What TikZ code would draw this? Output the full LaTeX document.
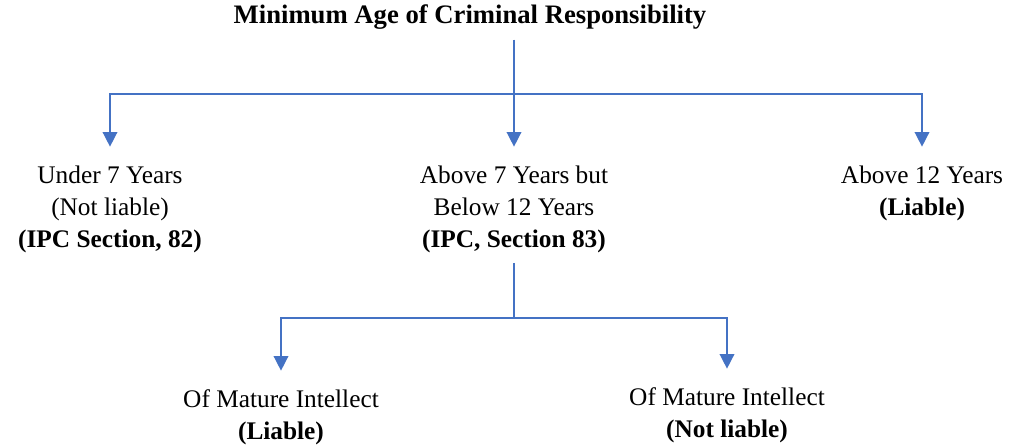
\documentclass[tikz,border=0pt]{standalone}
\usepackage{fontspec}
\setmainfont{Liberation Serif}
\usetikzlibrary{arrows.meta,positioning,calc}
\definecolor{linkblue}{HTML}{4472C4}

\begin{document}
\begin{tikzpicture}[
  x=0.75pt, y=0.75pt,
  >={Triangle[length=11pt,width=11pt]},
  link/.style={draw=linkblue, line width=1.1pt},
  arrow/.style={link, ->, linkblue, shorten >=7pt},
  stem/.style={link, shorten <=0.5pt},
  caption/.style={align=center, inner xsep=2pt, inner ysep=7pt,
                  font=\fontsize{19pt}{24pt}\selectfont},
  heading/.style={caption, font=\fontsize{20pt}{24pt}\selectfont\bfseries},
]
\useasboundingbox (0,0) rectangle (1010,-446);

% --- Title and first fork ---
\node[heading] (title) at (470,-17) {Minimum Age of Criminal Responsibility};
\coordinate (fork) at (514,-94);

% --- Three age groups ---
\node[caption, anchor=north] (under) at (110,-156)
  {Under 7 Years\\(Not liable)\\\textbf{(IPC Section, 82)}};
\node[caption, anchor=north] (mid)   at (514,-156)
  {Above 7 Years but\\Below 12 Years\\\textbf{(IPC, Section 83)}};
\node[caption, anchor=north] (over)  at (922,-156)
  {Above 12 Years\\\textbf{(Liable)}};

% --- Second fork under the middle group ---
\coordinate (fork2) at (514,-318);
\node[caption, anchor=north] (mature) at (281,-380)
  {Of Mature Intellect\\\textbf{(Liable)}};
\node[caption, anchor=north] (immature) at (727,-378)
  {Of Mature Intellect\\\textbf{(Not liable)}};

% connectors
\draw[stem] (title.south -| fork) -- (fork);
\draw[arrow] (fork) -| (under.north);
\draw[arrow] (fork) -- (mid.north);
\draw[arrow] (fork) -| (over.north);

\draw[stem] (mid.south) -- (fork2);
\draw[arrow] (fork2) -| (mature.north);
\draw[arrow] (fork2) -| (immature.north);
\end{tikzpicture}
\end{document}
